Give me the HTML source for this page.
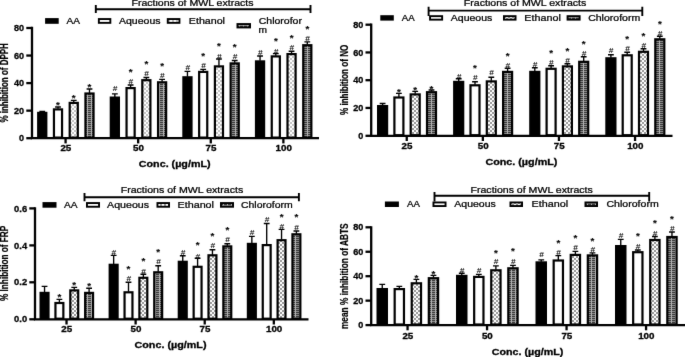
<!DOCTYPE html>
<html lang="en"><head><meta charset="utf-8"><title>Antioxidant activity of MWL extract fractions</title>
<style>
html,body{margin:0;padding:0;background:#fff;}
body{width:685px;height:357px;overflow:hidden;}
svg{display:block;font-family:"Liberation Sans", Arial, sans-serif;fill:#000;}
</style></head><body>
<svg width="685" height="357" viewBox="0 0 685 357">
<defs>
<pattern id="eth" width="4" height="4" patternUnits="userSpaceOnUse">
<rect width="4" height="4" fill="#fff"/>
<rect x="0" y="0" width="2" height="2" fill="#999"/>
<rect x="2" y="2" width="2" height="2" fill="#999"/>
</pattern>
<pattern id="ethA" width="4" height="4" patternUnits="userSpaceOnUse">
<rect width="4" height="4" fill="#fff"/>
<rect x="0" y="0" width="2" height="2" fill="#c4c4c4"/>
<rect x="2" y="2" width="2" height="2" fill="#c4c4c4"/>
</pattern>
<pattern id="chl" width="4" height="2" patternUnits="userSpaceOnUse">
<rect width="4" height="2" fill="#b0b0b0"/>
<rect x="0" y="0" width="3" height="1" fill="#3a3a3a"/><rect x="0" y="1" width="3" height="1" fill="#8c8c8c"/>
</pattern>
</defs>
<filter id="soft" filterUnits="userSpaceOnUse" x="0" y="0" width="685" height="357" color-interpolation-filters="sRGB">
<feConvolveMatrix order="3" kernelMatrix="0.0052 0.0619 0.0052 0.0619 0.7314 0.0619 0.0052 0.0619 0.0052" divisor="1" edgeMode="duplicate" preserveAlpha="true"/>
</filter>
<g filter="url(#soft)">
<rect width="685" height="357" fill="#fff"/>
<path d="M42.25 112.30V111.30M39.35 111.30H45.15" stroke="#000" stroke-width="1.35" fill="none"/>
<rect x="37.10" y="111.80" width="10.30" height="26.40" fill="#000"/>
<path d="M58.00 108.80V107.00M55.10 107.00H60.90" stroke="#000" stroke-width="1.35" fill="none"/>
<rect x="53.95" y="109.40" width="8.10" height="28.20" fill="#fff" stroke="#000" stroke-width="2.2"/>
<text x="58.00" y="107.75" font-size="8.6" font-weight="bold" text-anchor="middle" textLength="3.80" lengthAdjust="spacingAndGlyphs" stroke="#000" stroke-width="0.1">*</text>
<path d="M73.75 102.30V100.40M70.85 100.40H76.65" stroke="#000" stroke-width="1.35" fill="none"/>
<rect x="69.70" y="102.90" width="8.10" height="34.70" fill="url(#ethA)" stroke="#000" stroke-width="2.2"/>
<text x="73.75" y="100.85" font-size="8.6" font-weight="bold" text-anchor="middle" textLength="3.80" lengthAdjust="spacingAndGlyphs" stroke="#000" stroke-width="0.1">*</text>
<path d="M89.50 92.90V89.00M86.60 89.00H92.40" stroke="#000" stroke-width="1.35" fill="none"/>
<rect x="85.45" y="93.50" width="8.10" height="44.10" fill="url(#chl)" stroke="#000" stroke-width="2.2"/>
<text x="89.50" y="89.65" font-size="8.6" font-weight="bold" text-anchor="middle" textLength="3.80" lengthAdjust="spacingAndGlyphs" stroke="#000" stroke-width="0.1">*</text>
<path d="M114.85 97.00V93.80M111.95 93.80H117.75" stroke="#000" stroke-width="1.35" fill="none"/>
<rect x="109.70" y="96.50" width="10.30" height="41.70" fill="#000"/>
<text x="115.05" y="91.30" font-size="8" text-anchor="middle" font-style="italic" stroke="#000" stroke-width="0.12">#</text>
<path d="M130.60 87.50V85.00M127.70 85.00H133.50" stroke="#000" stroke-width="1.35" fill="none"/>
<rect x="126.55" y="88.10" width="8.10" height="49.50" fill="#fff" stroke="#000" stroke-width="2.2"/>
<text x="130.80" y="83.90" font-size="8" text-anchor="middle" font-style="italic" stroke="#000" stroke-width="0.12">#</text>
<text x="130.60" y="74.55" font-size="8.6" font-weight="bold" text-anchor="middle" textLength="3.80" lengthAdjust="spacingAndGlyphs" stroke="#000" stroke-width="0.1">*</text>
<path d="M146.35 79.60V77.50M143.45 77.50H149.25" stroke="#000" stroke-width="1.35" fill="none"/>
<rect x="142.30" y="80.20" width="8.10" height="57.40" fill="url(#ethA)" stroke="#000" stroke-width="2.2"/>
<text x="146.55" y="76.20" font-size="8" text-anchor="middle" font-style="italic" stroke="#000" stroke-width="0.12">#</text>
<text x="146.35" y="66.65" font-size="8.6" font-weight="bold" text-anchor="middle" textLength="3.80" lengthAdjust="spacingAndGlyphs" stroke="#000" stroke-width="0.1">*</text>
<path d="M162.10 81.70V79.40M159.20 79.40H165.00" stroke="#000" stroke-width="1.35" fill="none"/>
<rect x="158.05" y="82.30" width="8.10" height="55.30" fill="url(#chl)" stroke="#000" stroke-width="2.2"/>
<text x="162.30" y="77.80" font-size="8" text-anchor="middle" font-style="italic" stroke="#000" stroke-width="0.12">#</text>
<text x="162.10" y="69.15" font-size="8.6" font-weight="bold" text-anchor="middle" textLength="3.80" lengthAdjust="spacingAndGlyphs" stroke="#000" stroke-width="0.1">*</text>
<path d="M187.45 76.70V71.40M184.55 71.40H190.35" stroke="#000" stroke-width="1.35" fill="none"/>
<rect x="182.30" y="76.20" width="10.30" height="62.00" fill="#000"/>
<text x="187.65" y="69.50" font-size="8" text-anchor="middle" font-style="italic" stroke="#000" stroke-width="0.12">#</text>
<path d="M203.20 71.30V69.30M200.30 69.30H206.10" stroke="#000" stroke-width="1.35" fill="none"/>
<rect x="199.15" y="71.90" width="8.10" height="65.70" fill="#fff" stroke="#000" stroke-width="2.2"/>
<text x="203.40" y="68.00" font-size="8" text-anchor="middle" font-style="italic" stroke="#000" stroke-width="0.12">#</text>
<text x="203.20" y="58.95" font-size="8.6" font-weight="bold" text-anchor="middle" textLength="3.80" lengthAdjust="spacingAndGlyphs" stroke="#000" stroke-width="0.1">*</text>
<path d="M218.95 65.80V59.00M216.05 59.00H221.85" stroke="#000" stroke-width="1.35" fill="none"/>
<rect x="214.90" y="66.40" width="8.10" height="71.20" fill="url(#ethA)" stroke="#000" stroke-width="2.2"/>
<text x="219.15" y="58.70" font-size="8" text-anchor="middle" font-style="italic" stroke="#000" stroke-width="0.12">#</text>
<text x="218.95" y="48.95" font-size="8.6" font-weight="bold" text-anchor="middle" textLength="3.80" lengthAdjust="spacingAndGlyphs" stroke="#000" stroke-width="0.1">*</text>
<path d="M234.70 62.80V60.50M231.80 60.50H237.60" stroke="#000" stroke-width="1.35" fill="none"/>
<rect x="230.65" y="63.40" width="8.10" height="74.20" fill="url(#chl)" stroke="#000" stroke-width="2.2"/>
<text x="234.90" y="59.10" font-size="8" text-anchor="middle" font-style="italic" stroke="#000" stroke-width="0.12">#</text>
<text x="234.70" y="50.15" font-size="8.6" font-weight="bold" text-anchor="middle" textLength="3.80" lengthAdjust="spacingAndGlyphs" stroke="#000" stroke-width="0.1">*</text>
<path d="M260.05 60.80V56.00M257.15 56.00H262.95" stroke="#000" stroke-width="1.35" fill="none"/>
<rect x="254.90" y="60.30" width="10.30" height="77.90" fill="#000"/>
<text x="260.25" y="54.90" font-size="8" text-anchor="middle" font-style="italic" stroke="#000" stroke-width="0.12">#</text>
<path d="M275.80 55.80V53.60M272.90 53.60H278.70" stroke="#000" stroke-width="1.35" fill="none"/>
<rect x="271.75" y="56.40" width="8.10" height="81.20" fill="#fff" stroke="#000" stroke-width="2.2"/>
<text x="276.00" y="53.50" font-size="8" text-anchor="middle" font-style="italic" stroke="#000" stroke-width="0.12">#</text>
<text x="275.80" y="43.65" font-size="8.6" font-weight="bold" text-anchor="middle" textLength="3.80" lengthAdjust="spacingAndGlyphs" stroke="#000" stroke-width="0.1">*</text>
<path d="M291.55 53.50V51.20M288.65 51.20H294.45" stroke="#000" stroke-width="1.35" fill="none"/>
<rect x="287.50" y="54.10" width="8.10" height="83.50" fill="url(#ethA)" stroke="#000" stroke-width="2.2"/>
<text x="291.75" y="49.80" font-size="8" text-anchor="middle" font-style="italic" stroke="#000" stroke-width="0.12">#</text>
<text x="291.55" y="41.15" font-size="8.6" font-weight="bold" text-anchor="middle" textLength="3.80" lengthAdjust="spacingAndGlyphs" stroke="#000" stroke-width="0.1">*</text>
<path d="M307.30 44.60V41.90M304.40 41.90H310.20" stroke="#000" stroke-width="1.35" fill="none"/>
<rect x="303.25" y="45.20" width="8.10" height="92.40" fill="url(#chl)" stroke="#000" stroke-width="2.2"/>
<text x="307.50" y="41.30" font-size="8" text-anchor="middle" font-style="italic" stroke="#000" stroke-width="0.12">#</text>
<text x="307.30" y="32.05" font-size="8.6" font-weight="bold" text-anchor="middle" textLength="3.80" lengthAdjust="spacingAndGlyphs" stroke="#000" stroke-width="0.1">*</text>
<path d="M32.00 26.85V138.20H319.00" stroke="#000" stroke-width="2.3" fill="none" stroke-linejoin="miter"/>
<path d="M26.30 28.00H32.00" stroke="#000" stroke-width="2.3"/>
<text x="24.10" y="31.15" font-size="8.8" font-weight="bold" stroke="#000" stroke-width="0.3" text-anchor="end" textLength="10.10" lengthAdjust="spacingAndGlyphs" >80</text>
<path d="M26.30 55.55H32.00" stroke="#000" stroke-width="2.3"/>
<text x="24.10" y="58.70" font-size="8.8" font-weight="bold" stroke="#000" stroke-width="0.3" text-anchor="end" textLength="10.10" lengthAdjust="spacingAndGlyphs" >60</text>
<path d="M26.30 83.10H32.00" stroke="#000" stroke-width="2.3"/>
<text x="24.10" y="86.25" font-size="8.8" font-weight="bold" stroke="#000" stroke-width="0.3" text-anchor="end" textLength="10.10" lengthAdjust="spacingAndGlyphs" >40</text>
<path d="M26.30 110.65H32.00" stroke="#000" stroke-width="2.3"/>
<text x="24.10" y="113.80" font-size="8.8" font-weight="bold" stroke="#000" stroke-width="0.3" text-anchor="end" textLength="10.10" lengthAdjust="spacingAndGlyphs" >20</text>
<path d="M26.30 138.20H32.00" stroke="#000" stroke-width="2.3"/>
<text x="24.10" y="141.35" font-size="8.8" font-weight="bold" stroke="#000" stroke-width="0.3" text-anchor="end" textLength="5.05" lengthAdjust="spacingAndGlyphs" >0</text>
<path d="M65.58 138.20v5.2" stroke="#000" stroke-width="2.3"/>
<text x="65.88" y="151.00" font-size="8.8" font-weight="bold" stroke="#000" stroke-width="0.3" text-anchor="middle" textLength="10.90" lengthAdjust="spacingAndGlyphs" >25</text>
<path d="M138.17 138.20v5.2" stroke="#000" stroke-width="2.3"/>
<text x="138.47" y="151.00" font-size="8.8" font-weight="bold" stroke="#000" stroke-width="0.3" text-anchor="middle" textLength="10.90" lengthAdjust="spacingAndGlyphs" >50</text>
<path d="M210.77 138.20v5.2" stroke="#000" stroke-width="2.3"/>
<text x="211.07" y="151.00" font-size="8.8" font-weight="bold" stroke="#000" stroke-width="0.3" text-anchor="middle" textLength="10.90" lengthAdjust="spacingAndGlyphs" >75</text>
<path d="M283.37 138.20v5.2" stroke="#000" stroke-width="2.3"/>
<text x="283.67" y="151.00" font-size="8.8" font-weight="bold" stroke="#000" stroke-width="0.3" text-anchor="middle" textLength="16.35" lengthAdjust="spacingAndGlyphs" >100</text>
<text x="138.80" y="166.80" font-size="9.2" font-weight="bold" stroke="#000" stroke-width="0.3" textLength="71.80" lengthAdjust="spacingAndGlyphs" >Conc. (µg/mL)</text>
<text transform="translate(7.8 82.85) rotate(-90)" font-size="10.3" font-weight="bold" stroke="#000" stroke-width="0.2" text-anchor="middle" textLength="79.5" lengthAdjust="spacingAndGlyphs">% inhibition of DPPH</text>
<text x="131.50" y="6.30" font-size="8.3" stroke="#000" stroke-width="0.24" textLength="122.00" lengthAdjust="spacingAndGlyphs" >Fractions of MWL extracts</text>
<path d="M95.80 4.90V13.00M310.50 4.90V13.00M95.80 9.30H310.50" stroke="#000" stroke-width="1.9" fill="none"/>
<rect x="45.1" y="18.1" width="13.60" height="5.70" fill="#000"/>
<text x="66.50" y="23.90" font-size="8.3" stroke="#000" stroke-width="0.24" textLength="13.50" lengthAdjust="spacingAndGlyphs" >AA</text>
<rect x="98.85" y="19.05" width="11.50" height="3.80" fill="#fff" stroke="#000" stroke-width="1.9"/>
<text x="119.00" y="23.90" font-size="8.3" stroke="#000" stroke-width="0.24" textLength="41.50" lengthAdjust="spacingAndGlyphs" >Aqueous</text>
<rect x="167.75" y="19.05" width="11.70" height="3.80" fill="url(#ethA)" stroke="#000" stroke-width="1.9"/>
<text x="188.80" y="23.90" font-size="8.3" stroke="#000" stroke-width="0.24" textLength="36.20" lengthAdjust="spacingAndGlyphs" >Ethanol</text>
<rect x="237.45" y="24.05" width="12.60" height="3.40" fill="url(#chl)" stroke="#000" stroke-width="1.9"/>
<text x="258.70" y="23.90" font-size="8.3" stroke="#000" stroke-width="0.24" textLength="43.30" lengthAdjust="spacingAndGlyphs" >Chlorofor</text>
<text x="258.50" y="33.00" font-size="8.3" stroke="#000" stroke-width="0.24" textLength="8.50" lengthAdjust="spacingAndGlyphs" >m</text>
<path d="M382.60 105.50V103.50M379.70 103.50H385.50" stroke="#000" stroke-width="1.35" fill="none"/>
<rect x="377.00" y="105.00" width="11.20" height="30.80" fill="#000"/>
<path d="M398.90 96.90V93.30M396.00 93.30H401.80" stroke="#000" stroke-width="1.35" fill="none"/>
<rect x="394.40" y="97.50" width="9.00" height="37.70" fill="#fff" stroke="#000" stroke-width="2.2"/>
<text x="398.90" y="95.05" font-size="8.6" font-weight="bold" text-anchor="middle" textLength="3.80" lengthAdjust="spacingAndGlyphs" stroke="#000" stroke-width="0.1">*</text>
<path d="M415.20 93.80V91.30M412.30 91.30H418.10" stroke="#000" stroke-width="1.35" fill="none"/>
<rect x="410.70" y="94.40" width="9.00" height="40.80" fill="url(#eth)" stroke="#000" stroke-width="2.2"/>
<text x="415.20" y="92.85" font-size="8.6" font-weight="bold" text-anchor="middle" textLength="3.80" lengthAdjust="spacingAndGlyphs" stroke="#000" stroke-width="0.1">*</text>
<path d="M431.50 91.60V90.00M428.60 90.00H434.40" stroke="#000" stroke-width="1.35" fill="none"/>
<rect x="427.00" y="92.20" width="9.00" height="43.00" fill="url(#chl)" stroke="#000" stroke-width="2.2"/>
<text x="431.50" y="92.05" font-size="8.6" font-weight="bold" text-anchor="middle" textLength="3.80" lengthAdjust="spacingAndGlyphs" stroke="#000" stroke-width="0.1">*</text>
<path d="M458.70 81.30V78.70M455.80 78.70H461.60" stroke="#000" stroke-width="1.35" fill="none"/>
<rect x="453.10" y="80.80" width="11.20" height="55.00" fill="#000"/>
<text x="458.90" y="78.50" font-size="8" text-anchor="middle" font-style="italic" stroke="#000" stroke-width="0.12">#</text>
<path d="M475.00 84.70V81.70M472.10 81.70H477.90" stroke="#000" stroke-width="1.35" fill="none"/>
<rect x="470.50" y="85.30" width="9.00" height="49.90" fill="#fff" stroke="#000" stroke-width="2.2"/>
<text x="475.20" y="80.00" font-size="8" text-anchor="middle" font-style="italic" stroke="#000" stroke-width="0.12">#</text>
<text x="475.00" y="71.15" font-size="8.6" font-weight="bold" text-anchor="middle" textLength="3.80" lengthAdjust="spacingAndGlyphs" stroke="#000" stroke-width="0.1">*</text>
<path d="M491.30 80.80V77.20M488.40 77.20H494.20" stroke="#000" stroke-width="1.35" fill="none"/>
<rect x="486.80" y="81.40" width="9.00" height="53.80" fill="url(#eth)" stroke="#000" stroke-width="2.2"/>
<text x="491.50" y="75.30" font-size="8" text-anchor="middle" font-style="italic" stroke="#000" stroke-width="0.12">#</text>
<path d="M507.60 71.30V68.20M504.70 68.20H510.50" stroke="#000" stroke-width="1.35" fill="none"/>
<rect x="503.10" y="71.90" width="9.00" height="63.30" fill="url(#chl)" stroke="#000" stroke-width="2.2"/>
<text x="507.80" y="67.50" font-size="8" text-anchor="middle" font-style="italic" stroke="#000" stroke-width="0.12">#</text>
<text x="507.60" y="58.55" font-size="8.6" font-weight="bold" text-anchor="middle" textLength="3.80" lengthAdjust="spacingAndGlyphs" stroke="#000" stroke-width="0.1">*</text>
<path d="M534.80 71.30V67.70M531.90 67.70H537.70" stroke="#000" stroke-width="1.35" fill="none"/>
<rect x="529.20" y="70.80" width="11.20" height="65.00" fill="#000"/>
<text x="535.00" y="66.60" font-size="8" text-anchor="middle" font-style="italic" stroke="#000" stroke-width="0.12">#</text>
<path d="M551.10 68.20V65.70M548.20 65.70H554.00" stroke="#000" stroke-width="1.35" fill="none"/>
<rect x="546.60" y="68.80" width="9.00" height="66.40" fill="#fff" stroke="#000" stroke-width="2.2"/>
<text x="551.30" y="64.60" font-size="8" text-anchor="middle" font-style="italic" stroke="#000" stroke-width="0.12">#</text>
<text x="551.10" y="56.35" font-size="8.6" font-weight="bold" text-anchor="middle" textLength="3.80" lengthAdjust="spacingAndGlyphs" stroke="#000" stroke-width="0.1">*</text>
<path d="M567.40 65.80V63.70M564.50 63.70H570.30" stroke="#000" stroke-width="1.35" fill="none"/>
<rect x="562.90" y="66.40" width="9.00" height="68.80" fill="url(#eth)" stroke="#000" stroke-width="2.2"/>
<text x="567.60" y="62.50" font-size="8" text-anchor="middle" font-style="italic" stroke="#000" stroke-width="0.12">#</text>
<text x="567.40" y="53.65" font-size="8.6" font-weight="bold" text-anchor="middle" textLength="3.80" lengthAdjust="spacingAndGlyphs" stroke="#000" stroke-width="0.1">*</text>
<path d="M583.70 61.20V56.70M580.80 56.70H586.60" stroke="#000" stroke-width="1.35" fill="none"/>
<rect x="579.20" y="61.80" width="9.00" height="73.40" fill="url(#chl)" stroke="#000" stroke-width="2.2"/>
<text x="583.90" y="56.20" font-size="8" text-anchor="middle" font-style="italic" stroke="#000" stroke-width="0.12">#</text>
<text x="583.70" y="46.85" font-size="8.6" font-weight="bold" text-anchor="middle" textLength="3.80" lengthAdjust="spacingAndGlyphs" stroke="#000" stroke-width="0.1">*</text>
<path d="M610.90 57.70V54.70M608.00 54.70H613.80" stroke="#000" stroke-width="1.35" fill="none"/>
<rect x="605.30" y="57.20" width="11.20" height="78.60" fill="#000"/>
<text x="611.10" y="52.80" font-size="8" text-anchor="middle" font-style="italic" stroke="#000" stroke-width="0.12">#</text>
<path d="M627.20 54.70V52.20M624.30 52.20H630.10" stroke="#000" stroke-width="1.35" fill="none"/>
<rect x="622.70" y="55.30" width="9.00" height="79.90" fill="#fff" stroke="#000" stroke-width="2.2"/>
<text x="627.40" y="51.30" font-size="8" text-anchor="middle" font-style="italic" stroke="#000" stroke-width="0.12">#</text>
<text x="627.20" y="42.35" font-size="8.6" font-weight="bold" text-anchor="middle" textLength="3.80" lengthAdjust="spacingAndGlyphs" stroke="#000" stroke-width="0.1">*</text>
<path d="M643.50 51.20V48.70M640.60 48.70H646.40" stroke="#000" stroke-width="1.35" fill="none"/>
<rect x="639.00" y="51.80" width="9.00" height="83.40" fill="url(#eth)" stroke="#000" stroke-width="2.2"/>
<text x="643.70" y="47.50" font-size="8" text-anchor="middle" font-style="italic" stroke="#000" stroke-width="0.12">#</text>
<text x="643.50" y="38.65" font-size="8.6" font-weight="bold" text-anchor="middle" textLength="3.80" lengthAdjust="spacingAndGlyphs" stroke="#000" stroke-width="0.1">*</text>
<path d="M659.80 38.70V36.20M656.90 36.20H662.70" stroke="#000" stroke-width="1.35" fill="none"/>
<rect x="655.30" y="39.30" width="9.00" height="95.90" fill="url(#chl)" stroke="#000" stroke-width="2.2"/>
<text x="660.00" y="35.50" font-size="8" text-anchor="middle" font-style="italic" stroke="#000" stroke-width="0.12">#</text>
<text x="659.80" y="26.65" font-size="8.6" font-weight="bold" text-anchor="middle" textLength="3.80" lengthAdjust="spacingAndGlyphs" stroke="#000" stroke-width="0.1">*</text>
<path d="M371.20 23.55V135.80H672.50" stroke="#000" stroke-width="2.3" fill="none" stroke-linejoin="miter"/>
<path d="M365.50 24.70H371.20" stroke="#000" stroke-width="2.3"/>
<text x="363.30" y="27.85" font-size="8.8" font-weight="bold" stroke="#000" stroke-width="0.3" text-anchor="end" textLength="10.10" lengthAdjust="spacingAndGlyphs" >80</text>
<path d="M365.50 52.45H371.20" stroke="#000" stroke-width="2.3"/>
<text x="363.30" y="55.60" font-size="8.8" font-weight="bold" stroke="#000" stroke-width="0.3" text-anchor="end" textLength="10.10" lengthAdjust="spacingAndGlyphs" >60</text>
<path d="M365.50 80.20H371.20" stroke="#000" stroke-width="2.3"/>
<text x="363.30" y="83.35" font-size="8.8" font-weight="bold" stroke="#000" stroke-width="0.3" text-anchor="end" textLength="10.10" lengthAdjust="spacingAndGlyphs" >40</text>
<path d="M365.50 107.95H371.20" stroke="#000" stroke-width="2.3"/>
<text x="363.30" y="111.10" font-size="8.8" font-weight="bold" stroke="#000" stroke-width="0.3" text-anchor="end" textLength="10.10" lengthAdjust="spacingAndGlyphs" >20</text>
<path d="M365.50 135.80H371.20" stroke="#000" stroke-width="2.3"/>
<text x="363.30" y="138.95" font-size="8.8" font-weight="bold" stroke="#000" stroke-width="0.3" text-anchor="end" textLength="5.05" lengthAdjust="spacingAndGlyphs" >0</text>
<path d="M406.75 135.80v5.2" stroke="#000" stroke-width="2.3"/>
<text x="407.05" y="148.80" font-size="8.8" font-weight="bold" stroke="#000" stroke-width="0.3" text-anchor="middle" textLength="10.90" lengthAdjust="spacingAndGlyphs" >25</text>
<path d="M482.85 135.80v5.2" stroke="#000" stroke-width="2.3"/>
<text x="483.15" y="148.80" font-size="8.8" font-weight="bold" stroke="#000" stroke-width="0.3" text-anchor="middle" textLength="10.90" lengthAdjust="spacingAndGlyphs" >50</text>
<path d="M558.95 135.80v5.2" stroke="#000" stroke-width="2.3"/>
<text x="559.25" y="148.80" font-size="8.8" font-weight="bold" stroke="#000" stroke-width="0.3" text-anchor="middle" textLength="10.90" lengthAdjust="spacingAndGlyphs" >75</text>
<path d="M635.05 135.80v5.2" stroke="#000" stroke-width="2.3"/>
<text x="635.35" y="148.80" font-size="8.8" font-weight="bold" stroke="#000" stroke-width="0.3" text-anchor="middle" textLength="16.35" lengthAdjust="spacingAndGlyphs" >100</text>
<text x="485.40" y="164.70" font-size="9.2" font-weight="bold" stroke="#000" stroke-width="0.3" textLength="72.00" lengthAdjust="spacingAndGlyphs" >Conc. (µg/mL)</text>
<text transform="translate(347.6 79.85) rotate(-90)" font-size="10.3" font-weight="bold" stroke="#000" stroke-width="0.2" text-anchor="middle" textLength="70.5" lengthAdjust="spacingAndGlyphs">% inhibition of NO</text>
<text x="463.80" y="6.00" font-size="8.3" stroke="#000" stroke-width="0.24" textLength="122.50" lengthAdjust="spacingAndGlyphs" >Fractions of MWL extracts</text>
<path d="M428.60 6.80V16.00M642.30 6.80V16.00M428.60 10.60H642.30" stroke="#000" stroke-width="1.9" fill="none"/>
<rect x="380.3" y="15.2" width="13.50" height="5.40" fill="#000"/>
<text x="401.70" y="20.70" font-size="8.3" stroke="#000" stroke-width="0.24" textLength="12.90" lengthAdjust="spacingAndGlyphs" >AA</text>
<rect x="430.05" y="16.15" width="12.10" height="3.50" fill="#fff" stroke="#000" stroke-width="1.9"/>
<text x="450.80" y="20.70" font-size="8.3" stroke="#000" stroke-width="0.24" textLength="41.50" lengthAdjust="spacingAndGlyphs" >Aqueous</text>
<rect x="503.95" y="16.15" width="11.60" height="3.50" fill="url(#eth)" stroke="#000" stroke-width="1.9"/>
<text x="524.30" y="20.70" font-size="8.3" stroke="#000" stroke-width="0.24" textLength="36.50" lengthAdjust="spacingAndGlyphs" >Ethanol</text>
<rect x="567.55" y="16.15" width="12.10" height="3.50" fill="url(#chl)" stroke="#000" stroke-width="1.9"/>
<text x="588.20" y="20.70" font-size="8.3" stroke="#000" stroke-width="0.24" textLength="52.00" lengthAdjust="spacingAndGlyphs" >Chloroform</text>
<path d="M44.55 292.30V286.30M41.65 286.30H47.45" stroke="#000" stroke-width="1.35" fill="none"/>
<rect x="39.50" y="291.80" width="10.10" height="27.50" fill="#000"/>
<path d="M59.40 302.40V299.40M56.50 299.40H62.30" stroke="#000" stroke-width="1.35" fill="none"/>
<rect x="55.45" y="303.00" width="7.90" height="15.70" fill="#fff" stroke="#000" stroke-width="2.2"/>
<text x="59.40" y="300.05" font-size="8.6" font-weight="bold" text-anchor="middle" textLength="3.80" lengthAdjust="spacingAndGlyphs" stroke="#000" stroke-width="0.1">*</text>
<path d="M74.25 289.80V287.30M71.35 287.30H77.15" stroke="#000" stroke-width="1.35" fill="none"/>
<rect x="70.30" y="290.40" width="7.90" height="28.30" fill="url(#eth)" stroke="#000" stroke-width="2.2"/>
<text x="74.25" y="288.45" font-size="8.6" font-weight="bold" text-anchor="middle" textLength="3.80" lengthAdjust="spacingAndGlyphs" stroke="#000" stroke-width="0.1">*</text>
<path d="M89.10 292.30V288.20M86.20 288.20H92.00" stroke="#000" stroke-width="1.35" fill="none"/>
<rect x="85.15" y="292.90" width="7.90" height="25.80" fill="url(#chl)" stroke="#000" stroke-width="2.2"/>
<text x="89.10" y="289.15" font-size="8.6" font-weight="bold" text-anchor="middle" textLength="3.80" lengthAdjust="spacingAndGlyphs" stroke="#000" stroke-width="0.1">*</text>
<path d="M113.65 264.20V255.40M110.75 255.40H116.55" stroke="#000" stroke-width="1.35" fill="none"/>
<rect x="108.60" y="263.70" width="10.10" height="55.60" fill="#000"/>
<text x="113.85" y="255.00" font-size="8" text-anchor="middle" font-style="italic" stroke="#000" stroke-width="0.12">#</text>
<path d="M128.50 291.70V282.20M125.60 282.20H131.40" stroke="#000" stroke-width="1.35" fill="none"/>
<rect x="124.55" y="292.30" width="7.90" height="26.40" fill="#fff" stroke="#000" stroke-width="2.2"/>
<text x="128.70" y="280.80" font-size="8" text-anchor="middle" font-style="italic" stroke="#000" stroke-width="0.12">#</text>
<text x="128.50" y="271.65" font-size="8.6" font-weight="bold" text-anchor="middle" textLength="3.80" lengthAdjust="spacingAndGlyphs" stroke="#000" stroke-width="0.1">*</text>
<path d="M143.35 277.20V274.20M140.45 274.20H146.25" stroke="#000" stroke-width="1.35" fill="none"/>
<rect x="139.40" y="277.80" width="7.90" height="40.90" fill="url(#eth)" stroke="#000" stroke-width="2.2"/>
<text x="143.55" y="274.10" font-size="8" text-anchor="middle" font-style="italic" stroke="#000" stroke-width="0.12">#</text>
<text x="143.35" y="264.35" font-size="8.6" font-weight="bold" text-anchor="middle" textLength="3.80" lengthAdjust="spacingAndGlyphs" stroke="#000" stroke-width="0.1">*</text>
<path d="M158.20 271.70V265.70M155.30 265.70H161.10" stroke="#000" stroke-width="1.35" fill="none"/>
<rect x="154.25" y="272.30" width="7.90" height="46.40" fill="url(#chl)" stroke="#000" stroke-width="2.2"/>
<text x="158.40" y="264.40" font-size="8" text-anchor="middle" font-style="italic" stroke="#000" stroke-width="0.12">#</text>
<text x="158.20" y="255.45" font-size="8.6" font-weight="bold" text-anchor="middle" textLength="3.80" lengthAdjust="spacingAndGlyphs" stroke="#000" stroke-width="0.1">*</text>
<path d="M182.75 261.20V255.70M179.85 255.70H185.65" stroke="#000" stroke-width="1.35" fill="none"/>
<rect x="177.70" y="260.70" width="10.10" height="58.60" fill="#000"/>
<text x="182.95" y="254.60" font-size="8" text-anchor="middle" font-style="italic" stroke="#000" stroke-width="0.12">#</text>
<path d="M197.60 266.20V258.20M194.70 258.20H200.50" stroke="#000" stroke-width="1.35" fill="none"/>
<rect x="193.65" y="266.80" width="7.90" height="51.90" fill="#fff" stroke="#000" stroke-width="2.2"/>
<text x="197.80" y="258.50" font-size="8" text-anchor="middle" font-style="italic" stroke="#000" stroke-width="0.12">#</text>
<text x="197.60" y="247.85" font-size="8.6" font-weight="bold" text-anchor="middle" textLength="3.80" lengthAdjust="spacingAndGlyphs" stroke="#000" stroke-width="0.1">*</text>
<path d="M212.45 254.70V249.70M209.55 249.70H215.35" stroke="#000" stroke-width="1.35" fill="none"/>
<rect x="208.50" y="255.30" width="7.90" height="63.40" fill="url(#eth)" stroke="#000" stroke-width="2.2"/>
<text x="212.65" y="248.30" font-size="8" text-anchor="middle" font-style="italic" stroke="#000" stroke-width="0.12">#</text>
<text x="212.45" y="239.15" font-size="8.6" font-weight="bold" text-anchor="middle" textLength="3.80" lengthAdjust="spacingAndGlyphs" stroke="#000" stroke-width="0.1">*</text>
<path d="M227.30 245.80V243.70M224.40 243.70H230.20" stroke="#000" stroke-width="1.35" fill="none"/>
<rect x="223.35" y="246.40" width="7.90" height="72.30" fill="url(#chl)" stroke="#000" stroke-width="2.2"/>
<text x="227.50" y="241.90" font-size="8" text-anchor="middle" font-style="italic" stroke="#000" stroke-width="0.12">#</text>
<text x="227.30" y="232.65" font-size="8.6" font-weight="bold" text-anchor="middle" textLength="3.80" lengthAdjust="spacingAndGlyphs" stroke="#000" stroke-width="0.1">*</text>
<path d="M251.85 243.30V236.40M248.95 236.40H254.75" stroke="#000" stroke-width="1.35" fill="none"/>
<rect x="246.80" y="242.80" width="10.10" height="76.50" fill="#000"/>
<text x="252.05" y="235.00" font-size="8" text-anchor="middle" font-style="italic" stroke="#000" stroke-width="0.12">#</text>
<path d="M266.70 244.50V223.50M263.80 223.50H269.60" stroke="#000" stroke-width="1.35" fill="none"/>
<rect x="262.75" y="245.10" width="7.90" height="73.60" fill="#fff" stroke="#000" stroke-width="2.2"/>
<text x="266.90" y="221.60" font-size="8" text-anchor="middle" font-style="italic" stroke="#000" stroke-width="0.12">#</text>
<path d="M281.55 239.60V229.40M278.65 229.40H284.45" stroke="#000" stroke-width="1.35" fill="none"/>
<rect x="277.60" y="240.20" width="7.90" height="78.50" fill="url(#eth)" stroke="#000" stroke-width="2.2"/>
<text x="281.75" y="229.10" font-size="8" text-anchor="middle" font-style="italic" stroke="#000" stroke-width="0.12">#</text>
<text x="281.55" y="220.45" font-size="8.6" font-weight="bold" text-anchor="middle" textLength="3.80" lengthAdjust="spacingAndGlyphs" stroke="#000" stroke-width="0.1">*</text>
<path d="M296.40 233.70V231.00M293.50 231.00H299.30" stroke="#000" stroke-width="1.35" fill="none"/>
<rect x="292.45" y="234.30" width="7.90" height="84.40" fill="url(#chl)" stroke="#000" stroke-width="2.2"/>
<text x="296.60" y="229.50" font-size="8" text-anchor="middle" font-style="italic" stroke="#000" stroke-width="0.12">#</text>
<text x="296.40" y="220.45" font-size="8.6" font-weight="bold" text-anchor="middle" textLength="3.80" lengthAdjust="spacingAndGlyphs" stroke="#000" stroke-width="0.1">*</text>
<path d="M35.00 207.25V319.30H308.50" stroke="#000" stroke-width="2.3" fill="none" stroke-linejoin="miter"/>
<path d="M29.30 208.40H35.00" stroke="#000" stroke-width="2.3"/>
<text x="27.10" y="211.55" font-size="8.8" font-weight="bold" stroke="#000" stroke-width="0.3" text-anchor="end" textLength="13.00" lengthAdjust="spacingAndGlyphs" >0.6</text>
<path d="M29.30 245.40H35.00" stroke="#000" stroke-width="2.3"/>
<text x="27.10" y="248.55" font-size="8.8" font-weight="bold" stroke="#000" stroke-width="0.3" text-anchor="end" textLength="13.00" lengthAdjust="spacingAndGlyphs" >0.4</text>
<path d="M29.30 282.30H35.00" stroke="#000" stroke-width="2.3"/>
<text x="27.10" y="285.45" font-size="8.8" font-weight="bold" stroke="#000" stroke-width="0.3" text-anchor="end" textLength="13.00" lengthAdjust="spacingAndGlyphs" >0.2</text>
<path d="M29.30 319.30H35.00" stroke="#000" stroke-width="2.3"/>
<text x="27.10" y="322.45" font-size="8.8" font-weight="bold" stroke="#000" stroke-width="0.3" text-anchor="end" textLength="13.00" lengthAdjust="spacingAndGlyphs" >0.0</text>
<path d="M66.53 319.30v5.2" stroke="#000" stroke-width="2.3"/>
<text x="66.83" y="332.20" font-size="8.8" font-weight="bold" stroke="#000" stroke-width="0.3" text-anchor="middle" textLength="10.90" lengthAdjust="spacingAndGlyphs" >25</text>
<path d="M135.62 319.30v5.2" stroke="#000" stroke-width="2.3"/>
<text x="135.92" y="332.20" font-size="8.8" font-weight="bold" stroke="#000" stroke-width="0.3" text-anchor="middle" textLength="10.90" lengthAdjust="spacingAndGlyphs" >50</text>
<path d="M204.72 319.30v5.2" stroke="#000" stroke-width="2.3"/>
<text x="205.02" y="332.20" font-size="8.8" font-weight="bold" stroke="#000" stroke-width="0.3" text-anchor="middle" textLength="10.90" lengthAdjust="spacingAndGlyphs" >75</text>
<path d="M273.82 319.30v5.2" stroke="#000" stroke-width="2.3"/>
<text x="274.12" y="332.20" font-size="8.8" font-weight="bold" stroke="#000" stroke-width="0.3" text-anchor="middle" textLength="16.35" lengthAdjust="spacingAndGlyphs" >100</text>
<text x="134.50" y="348.00" font-size="9.2" font-weight="bold" stroke="#000" stroke-width="0.3" textLength="72.00" lengthAdjust="spacingAndGlyphs" >Conc. (µg/mL)</text>
<text transform="translate(8.0 263.4) rotate(-90)" font-size="10.3" font-weight="bold" stroke="#000" stroke-width="0.2" text-anchor="middle" textLength="75.2" lengthAdjust="spacingAndGlyphs">% Inhibition of FRP</text>
<text x="120.70" y="193.00" font-size="8.3" stroke="#000" stroke-width="0.24" textLength="122.50" lengthAdjust="spacingAndGlyphs" >Fractions of MWL extracts</text>
<path d="M84.50 193.00V201.20M298.90 193.00V201.20M84.50 197.20H298.90" stroke="#000" stroke-width="1.9" fill="none"/>
<rect x="42.5" y="202.1" width="14.00" height="5.60" fill="#000"/>
<text x="64.00" y="208.00" font-size="8.3" stroke="#000" stroke-width="0.24" textLength="13.50" lengthAdjust="spacingAndGlyphs" >AA</text>
<rect x="86.95" y="203.05" width="12.10" height="3.70" fill="#fff" stroke="#000" stroke-width="1.9"/>
<text x="107.10" y="208.00" font-size="8.3" stroke="#000" stroke-width="0.24" textLength="42.00" lengthAdjust="spacingAndGlyphs" >Aqueous</text>
<rect x="157.45" y="203.05" width="11.60" height="3.70" fill="url(#eth)" stroke="#000" stroke-width="1.9"/>
<text x="177.50" y="208.00" font-size="8.3" stroke="#000" stroke-width="0.24" textLength="36.50" lengthAdjust="spacingAndGlyphs" >Ethanol</text>
<rect x="220.95" y="203.05" width="12.10" height="3.70" fill="url(#chl)" stroke="#000" stroke-width="1.9"/>
<text x="241.00" y="208.00" font-size="8.3" stroke="#000" stroke-width="0.24" textLength="51.70" lengthAdjust="spacingAndGlyphs" >Chloroform</text>
<path d="M382.25 288.50V284.40M379.35 284.40H385.15" stroke="#000" stroke-width="1.35" fill="none"/>
<rect x="376.50" y="288.00" width="11.50" height="37.10" fill="#000"/>
<path d="M399.32 288.50V286.40M396.42 286.40H402.22" stroke="#000" stroke-width="1.35" fill="none"/>
<rect x="394.67" y="289.10" width="9.30" height="35.40" fill="#fff" stroke="#000" stroke-width="2.2"/>
<path d="M416.39 282.70V279.30M413.49 279.30H419.29" stroke="#000" stroke-width="1.35" fill="none"/>
<rect x="411.74" y="283.30" width="9.30" height="41.20" fill="url(#eth)" stroke="#000" stroke-width="2.2"/>
<text x="416.39" y="281.45" font-size="8.6" font-weight="bold" text-anchor="middle" textLength="3.80" lengthAdjust="spacingAndGlyphs" stroke="#000" stroke-width="0.1">*</text>
<path d="M433.46 277.60V275.40M430.56 275.40H436.36" stroke="#000" stroke-width="1.35" fill="none"/>
<rect x="428.81" y="278.20" width="9.30" height="46.30" fill="url(#chl)" stroke="#000" stroke-width="2.2"/>
<text x="433.46" y="277.05" font-size="8.6" font-weight="bold" text-anchor="middle" textLength="3.80" lengthAdjust="spacingAndGlyphs" stroke="#000" stroke-width="0.1">*</text>
<path d="M461.75 275.30V273.20M458.85 273.20H464.65" stroke="#000" stroke-width="1.35" fill="none"/>
<rect x="456.00" y="274.80" width="11.50" height="50.30" fill="#000"/>
<text x="461.95" y="272.70" font-size="8" text-anchor="middle" font-style="italic" stroke="#000" stroke-width="0.12">#</text>
<path d="M478.82 276.30V274.30M475.92 274.30H481.72" stroke="#000" stroke-width="1.35" fill="none"/>
<rect x="474.17" y="276.90" width="9.30" height="47.60" fill="#fff" stroke="#000" stroke-width="2.2"/>
<text x="479.02" y="272.70" font-size="8" text-anchor="middle" font-style="italic" stroke="#000" stroke-width="0.12">#</text>
<path d="M495.89 269.70V265.90M492.99 265.90H498.79" stroke="#000" stroke-width="1.35" fill="none"/>
<rect x="491.24" y="270.30" width="9.30" height="54.20" fill="url(#eth)" stroke="#000" stroke-width="2.2"/>
<text x="496.09" y="264.40" font-size="8" text-anchor="middle" font-style="italic" stroke="#000" stroke-width="0.12">#</text>
<text x="495.89" y="256.05" font-size="8.6" font-weight="bold" text-anchor="middle" textLength="3.80" lengthAdjust="spacingAndGlyphs" stroke="#000" stroke-width="0.1">*</text>
<path d="M512.96 267.70V265.40M510.06 265.40H515.86" stroke="#000" stroke-width="1.35" fill="none"/>
<rect x="508.31" y="268.30" width="9.30" height="56.20" fill="url(#chl)" stroke="#000" stroke-width="2.2"/>
<text x="513.16" y="263.50" font-size="8" text-anchor="middle" font-style="italic" stroke="#000" stroke-width="0.12">#</text>
<text x="512.96" y="254.15" font-size="8.6" font-weight="bold" text-anchor="middle" textLength="3.80" lengthAdjust="spacingAndGlyphs" stroke="#000" stroke-width="0.1">*</text>
<path d="M541.25 261.80V259.80M538.35 259.80H544.15" stroke="#000" stroke-width="1.35" fill="none"/>
<rect x="535.50" y="261.30" width="11.50" height="63.80" fill="#000"/>
<text x="541.45" y="256.60" font-size="8" text-anchor="middle" font-style="italic" stroke="#000" stroke-width="0.12">#</text>
<path d="M558.32 259.90V255.60M555.42 255.60H561.22" stroke="#000" stroke-width="1.35" fill="none"/>
<rect x="553.67" y="260.50" width="9.30" height="64.00" fill="#fff" stroke="#000" stroke-width="2.2"/>
<text x="558.52" y="254.80" font-size="8" text-anchor="middle" font-style="italic" stroke="#000" stroke-width="0.12">#</text>
<text x="558.32" y="246.15" font-size="8.6" font-weight="bold" text-anchor="middle" textLength="3.80" lengthAdjust="spacingAndGlyphs" stroke="#000" stroke-width="0.1">*</text>
<path d="M575.39 254.30V251.40M572.49 251.40H578.29" stroke="#000" stroke-width="1.35" fill="none"/>
<rect x="570.74" y="254.90" width="9.30" height="69.60" fill="url(#eth)" stroke="#000" stroke-width="2.2"/>
<text x="575.59" y="250.30" font-size="8" text-anchor="middle" font-style="italic" stroke="#000" stroke-width="0.12">#</text>
<text x="575.39" y="241.35" font-size="8.6" font-weight="bold" text-anchor="middle" textLength="3.80" lengthAdjust="spacingAndGlyphs" stroke="#000" stroke-width="0.1">*</text>
<path d="M592.46 254.80V252.80M589.56 252.80H595.36" stroke="#000" stroke-width="1.35" fill="none"/>
<rect x="587.81" y="255.40" width="9.30" height="69.10" fill="url(#chl)" stroke="#000" stroke-width="2.2"/>
<text x="592.66" y="252.30" font-size="8" text-anchor="middle" font-style="italic" stroke="#000" stroke-width="0.12">#</text>
<text x="592.46" y="244.05" font-size="8.6" font-weight="bold" text-anchor="middle" textLength="3.80" lengthAdjust="spacingAndGlyphs" stroke="#000" stroke-width="0.1">*</text>
<path d="M620.75 245.50V239.40M617.85 239.40H623.65" stroke="#000" stroke-width="1.35" fill="none"/>
<rect x="615.00" y="245.00" width="11.50" height="80.10" fill="#000"/>
<text x="620.95" y="238.10" font-size="8" text-anchor="middle" font-style="italic" stroke="#000" stroke-width="0.12">#</text>
<path d="M637.82 251.60V250.00M634.92 250.00H640.72" stroke="#000" stroke-width="1.35" fill="none"/>
<rect x="633.17" y="252.20" width="9.30" height="72.30" fill="#fff" stroke="#000" stroke-width="2.2"/>
<text x="638.02" y="248.80" font-size="8" text-anchor="middle" font-style="italic" stroke="#000" stroke-width="0.12">#</text>
<text x="637.82" y="239.45" font-size="8.6" font-weight="bold" text-anchor="middle" textLength="3.80" lengthAdjust="spacingAndGlyphs" stroke="#000" stroke-width="0.1">*</text>
<path d="M654.89 239.40V236.50M651.99 236.50H657.79" stroke="#000" stroke-width="1.35" fill="none"/>
<rect x="650.24" y="240.00" width="9.30" height="84.50" fill="url(#eth)" stroke="#000" stroke-width="2.2"/>
<text x="655.09" y="235.60" font-size="8" text-anchor="middle" font-style="italic" stroke="#000" stroke-width="0.12">#</text>
<text x="654.89" y="226.25" font-size="8.6" font-weight="bold" text-anchor="middle" textLength="3.80" lengthAdjust="spacingAndGlyphs" stroke="#000" stroke-width="0.1">*</text>
<path d="M671.96 236.40V232.00M669.06 232.00H674.86" stroke="#000" stroke-width="1.35" fill="none"/>
<rect x="667.31" y="237.00" width="9.30" height="87.50" fill="url(#chl)" stroke="#000" stroke-width="2.2"/>
<text x="672.16" y="231.30" font-size="8" text-anchor="middle" font-style="italic" stroke="#000" stroke-width="0.12">#</text>
<text x="671.96" y="221.65" font-size="8.6" font-weight="bold" text-anchor="middle" textLength="3.80" lengthAdjust="spacingAndGlyphs" stroke="#000" stroke-width="0.1">*</text>
<path d="M371.20 226.15V325.10H686.00" stroke="#000" stroke-width="2.3" fill="none" stroke-linejoin="miter"/>
<path d="M365.50 227.30H371.20" stroke="#000" stroke-width="2.3"/>
<text x="363.30" y="230.45" font-size="8.8" font-weight="bold" stroke="#000" stroke-width="0.3" text-anchor="end" textLength="10.10" lengthAdjust="spacingAndGlyphs" >80</text>
<path d="M365.50 251.75H371.20" stroke="#000" stroke-width="2.3"/>
<text x="363.30" y="254.90" font-size="8.8" font-weight="bold" stroke="#000" stroke-width="0.3" text-anchor="end" textLength="10.10" lengthAdjust="spacingAndGlyphs" >60</text>
<path d="M365.50 276.20H371.20" stroke="#000" stroke-width="2.3"/>
<text x="363.30" y="279.35" font-size="8.8" font-weight="bold" stroke="#000" stroke-width="0.3" text-anchor="end" textLength="10.10" lengthAdjust="spacingAndGlyphs" >40</text>
<path d="M365.50 300.65H371.20" stroke="#000" stroke-width="2.3"/>
<text x="363.30" y="303.80" font-size="8.8" font-weight="bold" stroke="#000" stroke-width="0.3" text-anchor="end" textLength="10.10" lengthAdjust="spacingAndGlyphs" >20</text>
<path d="M365.50 325.10H371.20" stroke="#000" stroke-width="2.3"/>
<text x="363.30" y="328.25" font-size="8.8" font-weight="bold" stroke="#000" stroke-width="0.3" text-anchor="end" textLength="5.05" lengthAdjust="spacingAndGlyphs" >0</text>
<path d="M407.56 325.10v5.2" stroke="#000" stroke-width="2.3"/>
<text x="407.86" y="339.00" font-size="8.8" font-weight="bold" stroke="#000" stroke-width="0.3" text-anchor="middle" textLength="10.90" lengthAdjust="spacingAndGlyphs" >25</text>
<path d="M487.06 325.10v5.2" stroke="#000" stroke-width="2.3"/>
<text x="487.36" y="339.00" font-size="8.8" font-weight="bold" stroke="#000" stroke-width="0.3" text-anchor="middle" textLength="10.90" lengthAdjust="spacingAndGlyphs" >50</text>
<path d="M566.56 325.10v5.2" stroke="#000" stroke-width="2.3"/>
<text x="566.86" y="339.00" font-size="8.8" font-weight="bold" stroke="#000" stroke-width="0.3" text-anchor="middle" textLength="10.90" lengthAdjust="spacingAndGlyphs" >75</text>
<path d="M646.06 325.10v5.2" stroke="#000" stroke-width="2.3"/>
<text x="646.36" y="339.00" font-size="8.8" font-weight="bold" stroke="#000" stroke-width="0.3" text-anchor="middle" textLength="16.35" lengthAdjust="spacingAndGlyphs" >100</text>
<text x="491.70" y="354.90" font-size="9.2" font-weight="bold" stroke="#000" stroke-width="0.3" textLength="71.60" lengthAdjust="spacingAndGlyphs" >Conc. (µg/mL)</text>
<text transform="translate(347.6 276.2) rotate(-90)" font-size="10.3" font-weight="bold" stroke="#000" stroke-width="0.2" text-anchor="middle" textLength="105.6" lengthAdjust="spacingAndGlyphs">mean % inhibition of ABTS</text>
<text x="470.50" y="193.00" font-size="8.3" stroke="#000" stroke-width="0.24" textLength="122.30" lengthAdjust="spacingAndGlyphs" >Fractions of MWL extracts</text>
<path d="M434.50 192.00V201.50M649.20 192.00V201.50M434.50 195.80H649.20" stroke="#000" stroke-width="1.9" fill="none"/>
<rect x="384.9" y="201.5" width="14.00" height="5.50" fill="#000"/>
<text x="407.00" y="207.20" font-size="8.3" stroke="#000" stroke-width="0.24" textLength="12.90" lengthAdjust="spacingAndGlyphs" >AA</text>
<rect x="433.45" y="202.45" width="12.10" height="3.60" fill="#fff" stroke="#000" stroke-width="1.9"/>
<text x="454.30" y="207.20" font-size="8.3" stroke="#000" stroke-width="0.24" textLength="41.50" lengthAdjust="spacingAndGlyphs" >Aqueous</text>
<rect x="510.45" y="202.45" width="11.60" height="3.60" fill="url(#eth)" stroke="#000" stroke-width="1.9"/>
<text x="531.60" y="207.20" font-size="8.3" stroke="#000" stroke-width="0.24" textLength="36.50" lengthAdjust="spacingAndGlyphs" >Ethanol</text>
<rect x="585.45" y="202.45" width="11.60" height="3.60" fill="url(#chl)" stroke="#000" stroke-width="1.9"/>
<text x="606.50" y="207.20" font-size="8.3" stroke="#000" stroke-width="0.24" textLength="52.20" lengthAdjust="spacingAndGlyphs" >Chloroform</text>
</g>
</svg>
</body></html>
